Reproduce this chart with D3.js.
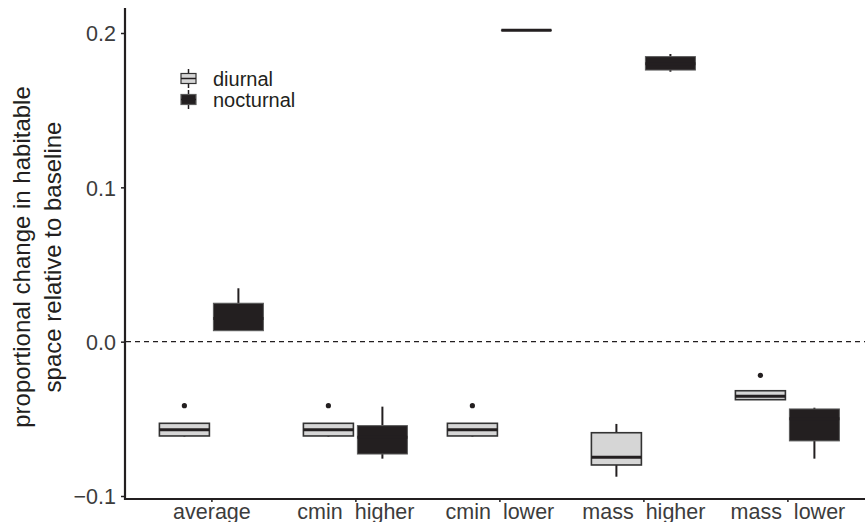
<!DOCTYPE html>
<html>
<head>
<meta charset="utf-8">
<script src="https://cdn.jsdelivr.net/npm/d3@7"></script>
<style>
  html, body { margin: 0; padding: 0; background: #fff; }
  svg { display: block; font-family: "Liberation Sans", Arial, Helvetica, sans-serif; }
</style>
</head>
<body>
<svg id="chart" width="865" height="522"></svg>
<script>
// ---- data ----
const categories = ["average", "cmin  higher", "cmin  lower", "mass  higher", "mass  lower"];
const groups = ["diurnal", "nocturnal"];
// box stats per category: [lower whisker, q1, median, q3, upper whisker]
const diurnalStats = [
  [-0.0615, -0.0611, -0.0570, -0.0529, -0.0529],
  [-0.0615, -0.0611, -0.0570, -0.0529, -0.0529],
  [-0.0615, -0.0611, -0.0570, -0.0529, -0.0529],
  [-0.0875, -0.0799, -0.0749, -0.0590, -0.0533],
  [-0.0376, -0.0376, -0.0354, -0.0318, -0.0318]
];
const diurnalOutliers = [[-0.0415], [-0.0415], [-0.0415], [], [-0.0218]];
const nocturnalStats = [
  [0.0071, 0.0071, 0.0150, 0.0249, 0.0346],
  [-0.0758, -0.0728, -0.0620, -0.0544, -0.0421],
  [0.2017, 0.2017, 0.2018, 0.2019, 0.2019],
  [0.1749, 0.1760, 0.1800, 0.1847, 0.1864],
  [-0.0758, -0.0643, -0.0500, -0.0436, -0.0428]
];
const nocturnalOutliers = [[], [], [], [], []];
const yTicks = [-0.1, 0.0, 0.1, 0.2];
const yTitle = ["proportional change in habitable", "space relative to baseline"];

// ---- layout ----
const svg = d3.select("#chart");
const plotLeft = 125, plotRight = 865, plotBottom = 499, plotTop = 8;
const ink = "#231f20";

const y = d3.scaleLinear().domain([-0.1, 0.2]).range([496, 33]);
const x = d3.scalePoint().domain(categories).range([211.4, 787.4]);
const dodge = d3.scaleBand().domain(groups).range([-54, 54]);
const boxW = 50;

const fills = { diurnal: "#d6d6d6", nocturnal: ink };
const outlines = { diurnal: "#333333", nocturnal: "#5a5a5a" };

const rows = [];
categories.forEach((c, i) => {
  rows.push({ cat: c, group: "diurnal", s: diurnalStats[i], out: diurnalOutliers[i] });
  rows.push({ cat: c, group: "nocturnal", s: nocturnalStats[i], out: nocturnalOutliers[i] });
});

// zero reference line
svg.append("line")
  .attr("x1", plotLeft + 1).attr("x2", plotRight)
  .attr("y1", y(0)).attr("y2", y(0))
  .attr("stroke", ink).attr("stroke-width", 1.2)
  .attr("stroke-dasharray", "5,4");

// boxes
const g = svg.append("g");
rows.forEach(r => {
  const cx = x(r.cat) + dodge(r.group) + dodge.bandwidth() / 2;
  const [lo, q1, med, q3, hi] = r.s;
  g.append("line").attr("x1", cx).attr("x2", cx)
    .attr("y1", y(hi)).attr("y2", y(q3))
    .attr("stroke", ink).attr("stroke-width", 2);
  g.append("line").attr("x1", cx).attr("x2", cx)
    .attr("y1", y(q1)).attr("y2", y(lo))
    .attr("stroke", ink).attr("stroke-width", 2);
  const top = y(q3), bot = y(q1);
  g.append("rect")
    .attr("x", cx - boxW / 2).attr("width", boxW)
    .attr("y", top).attr("height", Math.max(bot - top, 0.5))
    .attr("fill", fills[r.group])
    .attr("stroke", outlines[r.group])
    .attr("stroke-width", r.group === "diurnal" ? 1.6 : 1);
  g.append("line")
    .attr("x1", cx - boxW / 2).attr("x2", cx + boxW / 2)
    .attr("y1", y(med)).attr("y2", y(med))
    .attr("stroke", ink).attr("stroke-width", 3);
  r.out.forEach(o => {
    g.append("circle").attr("cx", cx).attr("cy", y(o)).attr("r", 2.6).attr("fill", ink);
  });
});

// axes
const yAxis = d3.axisLeft(y).tickValues(yTicks)
  .tickFormat(d => d === 0 ? "0.0" : d3.format(".1f")(d).replace("-", "\u2212"))
  .tickSize(4).tickPadding(5);
const yg = svg.append("g").attr("transform", `translate(${plotLeft},0)`).call(yAxis);
yg.select(".domain").remove();
yg.selectAll(".tick line").attr("stroke", ink).attr("stroke-width", 1.5);
yg.selectAll(".tick text").attr("fill", "#3c3c3c").style("font-size", "21.5px")
  .style("font-family", "Liberation Sans, Arial, sans-serif").attr("dy", "0.36em");

const xAxis = d3.axisBottom(x).tickSize(3).tickPadding(4);
const xg = svg.append("g").attr("transform", `translate(0,${plotBottom})`).call(xAxis);
xg.select(".domain").remove();
xg.selectAll(".tick line").attr("stroke", ink).attr("stroke-width", 1.5);
xg.selectAll(".tick text").attr("fill", "#3c3c3c").style("font-size", "21.5px")
  .style("font-family", "Liberation Sans, Arial, sans-serif")
  .style("white-space", "pre").attr("y", 0).attr("dy", "20");

// axis lines
svg.append("line").attr("x1", plotLeft).attr("x2", plotLeft)
  .attr("y1", plotTop).attr("y2", plotBottom + 1)
  .attr("stroke", ink).attr("stroke-width", 2.2);
svg.append("line").attr("x1", plotLeft - 1).attr("x2", plotRight)
  .attr("y1", plotBottom).attr("y2", plotBottom)
  .attr("stroke", ink).attr("stroke-width", 2.2);

// y title
const yt = svg.append("text")
  .attr("transform", "translate(0,257) rotate(-90)")
  .attr("text-anchor", "middle")
  .style("font-size", "24px").attr("fill", ink);
yt.selectAll("tspan").data(yTitle).join("tspan")
  .attr("x", 0).attr("y", (d, i) => 30 + i * 31)
  .text(d => d);

// legend
const leg = svg.append("g").attr("transform", "translate(180,69)");
groups.forEach((grp, i) => {
  const s = 19;
  const k = leg.append("g").attr("transform", `translate(0,${i * 21})`);
  k.append("line").attr("x1", 8.5).attr("x2", 8.5).attr("y1", 0).attr("y2", s)
    .attr("stroke", ink).attr("stroke-width", 1.5);
  k.append("rect").attr("x", 1).attr("y", 4.5).attr("width", 15).attr("height", 10)
    .attr("fill", fills[grp]).attr("stroke", outlines[grp]).attr("stroke-width", 1.2);
  k.append("line").attr("x1", 1).attr("x2", 16).attr("y1", 9.5).attr("y2", 9.5)
    .attr("stroke", ink).attr("stroke-width", 1.5);
  k.append("text").attr("x", 33).attr("y", 17)
    .style("font-size", "20px").attr("fill", ink).text(grp);
});
</script>
</body>
</html>
